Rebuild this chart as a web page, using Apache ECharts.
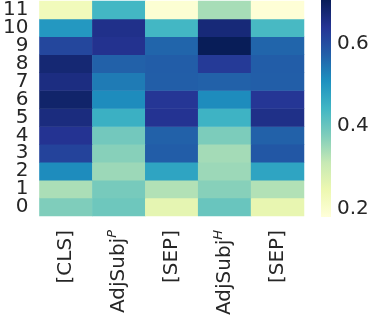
<!DOCTYPE html>
<html><head><meta charset="utf-8">
<script src="https://cdn.jsdelivr.net/npm/echarts@6/dist/echarts.min.js"></script>
<style>html,body{margin:0;padding:0;background:#fff}#c{width:374px;height:318px}</style>
</head><body><div id="c"></div>
<script>
const xCategories = ['[CLS]', 'AdjSubj^P', '[SEP]', 'AdjSubj^H', '[SEP] '];
const yCategories = ['0','1','2','3','4','5','6','7','8','9','10','11'];
// values per row (row 0 at bottom), columns in xCategories order
const row0  = [0.377, 0.395, 0.260, 0.400, 0.255];
const row1  = [0.337, 0.385, 0.330, 0.370, 0.330];
const row2  = [0.515, 0.350, 0.475, 0.350, 0.475];
const row3  = [0.616, 0.370, 0.575, 0.343, 0.584];
const row4  = [0.642, 0.390, 0.570, 0.380, 0.570];
const row5  = [0.663, 0.453, 0.642, 0.448, 0.652];
const row6  = [0.685, 0.515, 0.637, 0.515, 0.637];
const row7  = [0.660, 0.537, 0.574, 0.570, 0.574];
const row8  = [0.675, 0.570, 0.575, 0.630, 0.575];
const row9  = [0.610, 0.645, 0.565, 0.705, 0.565];
const row10 = [0.495, 0.650, 0.440, 0.670, 0.435];
const row11 = [0.230, 0.440, 0.190, 0.340, 0.185];
const rows = [row0,row1,row2,row3,row4,row5,row6,row7,row8,row9,row10,row11];
const colorbarTicks = [0.2, 0.4, 0.6];
const vMin = 0.18, vMax = 0.705;
const ylgnbu = ['#ffffd9','#edf8b1','#c7e9b4','#7fcdbb','#41b6c4','#1d91c0','#225ea8','#253494','#081d58'];

const data = [];
rows.forEach((r, yi) => r.forEach((v, xi) => data.push([xi, yi, v])));

const font = 'DejaVu Sans';
const chart = echarts.init(document.getElementById('c'), null, {renderer:'canvas'});
chart.setOption({
  animation: false,
  grid: [
    {left: 36, width: 268, top: 0, height: 217},
    {left: 321, width: 10, top: 0, height: 217}
  ],
  xAxis: [
    {type:'category', data:xCategories, gridIndex:0,
     axisLine:{show:false}, axisTick:{show:false}, splitLine:{show:false},
     axisLabel:{rotate:90, fontSize:20, fontFamily:font, color:'#262626', margin:14, interval:0,
       formatter: v => {
         const m = v.match(/^(.*)\^(.*)$/);
         return m ? m[1] + '{sup|' + m[2] + '}' : v.trim();
       },
       rich:{sup:{fontSize:13, fontStyle:'italic', fontFamily:font, color:'#262626', verticalAlign:'top', padding:[0,0,12,0]}}
     }},
    {type:'value', gridIndex:1, min:0, max:1, show:false}
  ],
  yAxis: [
    {type:'category', data:yCategories, gridIndex:0,
     axisLine:{show:false}, axisTick:{show:false}, splitLine:{show:false},
     axisLabel:{fontSize:20, fontFamily:font, color:'#262626', margin:11, interval:0}},
    {type:'value', gridIndex:1, min:vMin, max:vMax, position:'right',
     axisLine:{show:false}, splitLine:{show:false},
     axisTick:{show:true, length:4, customValues:colorbarTicks, lineStyle:{color:'#262626', width:1}},
     axisLabel:{fontSize:20, fontFamily:font, color:'#262626', margin:6, customValues:colorbarTicks,
       formatter: v => v.toFixed(1)}}
  ],
  visualMap: {type:'continuous', min:vMin, max:vMax, show:false, seriesIndex:0,
    inRange:{color:ylgnbu}},
  series: [
    {type:'heatmap', xAxisIndex:0, yAxisIndex:0, data:data, itemStyle:{borderWidth:0}},
    {type:'custom', xAxisIndex:1, yAxisIndex:1, data:[[0, vMin, 1, vMax]],
     renderItem: (params, api) => {
       const p0 = api.coord([api.value(0), api.value(1)]);
       const p1 = api.coord([api.value(2), api.value(3)]);
       return {type:'rect', shape:{x:p0[0], y:p1[1], width:p1[0]-p0[0], height:p0[1]-p1[1]},
         style:{fill: new echarts.graphic.LinearGradient(0,1,0,0,
           ylgnbu.map((c,i)=>({offset:i/(ylgnbu.length-1), color:c})))}};
     }}
  ]
});
</script></body></html>
